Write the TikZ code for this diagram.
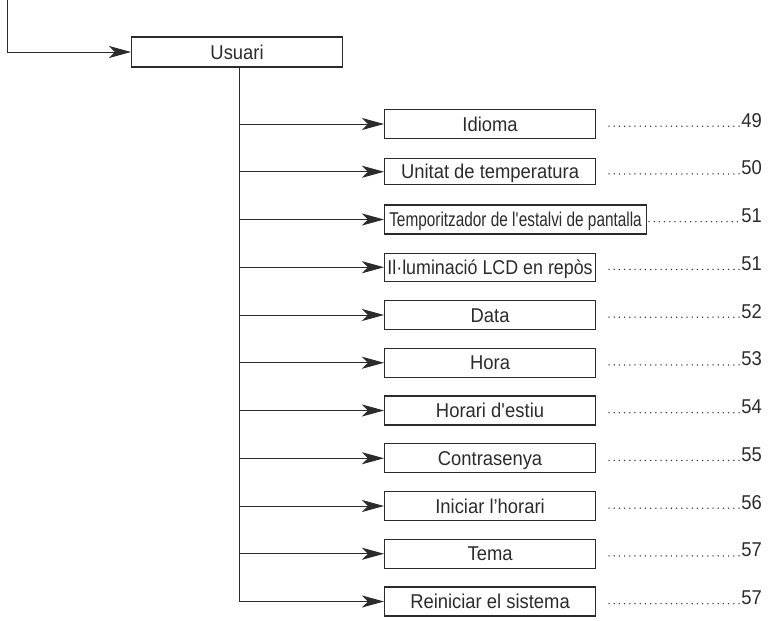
\documentclass[tikz,border=0pt]{standalone}
\usepackage{fontspec}
\setmainfont{Liberation Sans}[FakeStretch=0.92]
\usetikzlibrary{arrows.meta}
\definecolor{ink}{HTML}{2B2B2B}
\tikzset{
  menubox/.style={draw=ink, line width=1.1pt, minimum width=211pt, minimum height=29pt,
    inner sep=0pt, text=ink, font=\fontsize{20}{22}\selectfont, anchor=west,
    text height=14.3pt, text depth=0pt},
  link/.style={draw=ink, line width=0.9pt, -{Stealth[length=22pt,width=12pt,inset=6pt]}},
  plain/.style={draw=ink, line width=0.9pt},
  leader/.style={draw=ink, line width=1.5pt, line cap=round, dash pattern=on 0pt off 5.2pt},
  pagenum/.style={text=ink, font=\fontsize{20}{22}\selectfont, inner sep=0pt, anchor=base east},
}
\begin{document}
\begin{tikzpicture}[x=1pt,y=-1pt]
\useasboundingbox (0,0) rectangle (774,621);

\coordinate (start) at (7.5,0);
\node[menubox, minimum height=30pt] (usuari) at (131,52) {Usuari};
\draw[link] (start) |- (usuari.west);

\coordinate (trunk) at (239.3,67);

\node[menubox] (idioma) at (384,124) {Idioma};
\node[menubox, minimum height=26pt] (unitat) at (384,171.75) {Unitat de temperatura};
\node[menubox, minimum width=262pt] (temp) at (384,219.5) {\scalebox{0.835}[1]{Temporitzador de l\textquotesingle estalvi de pantalla}};
\node[menubox, minimum height=28pt] (illum) at (384,267.25) {\scalebox{0.97}[1]{Il·luminació LCD en repòs}};
\node[menubox] (data) at (384,315) {Data};
\node[menubox] (hora) at (384,362.75) {Hora};
\node[menubox] (estiu) at (384,410.5) {Horari d\textquotesingle estiu};
\node[menubox] (contra) at (384,458.25) {Contrasenya};
\node[menubox] (iniciar) at (384,506) {Iniciar l’horari};
\node[menubox] (tema) at (384,553.75) {Tema};
\node[menubox] (rein) at (384,601.5) {Reiniciar el sistema};

\draw[plain] (trunk) -- (trunk |- rein.west);
\foreach \n in {idioma,unitat,temp,illum,data,hora,estiu,contra,iniciar,tema,rein}
  \draw[link] (trunk |- \n.west) -- (\n.west);

\foreach \n/\y/\p/\s in {idioma/124/49/609,unitat/171.75/50/609,temp/219.5/51/649,illum/267.25/51/609,
  data/315/52/609,hora/362.75/53/609,estiu/410.5/54/609,contra/458.25/55/609,
  iniciar/506/56/609,tema/553.75/57/609,rein/601.5/57/609}{
  \node[pagenum] (pg-\n) at (762,\y+3) {\p};
  \coordinate (dot-\n) at (\s,\y+2.2);
  \draw[leader] (dot-\n) -- ([xshift=-1.5pt]pg-\n.west |- dot-\n);
}
\end{tikzpicture}
\end{document}
